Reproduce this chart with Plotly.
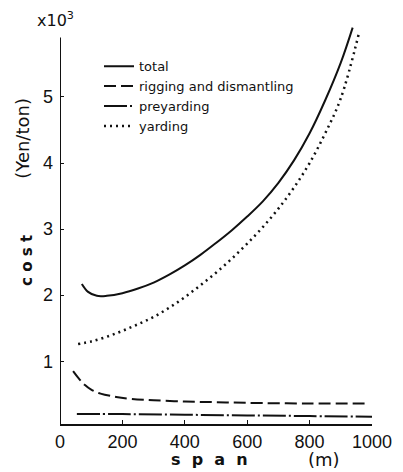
import plotly.graph_objects as go

# Cost components (x10^3 Yen/ton) against span (m)
total_span = [70, 90, 118, 150, 200, 250, 300, 350, 400, 450, 500, 550, 600, 650, 700, 750, 800, 850, 900, 938]
total_cost = [2.17, 2.05, 1.99, 1.99, 2.03, 2.1, 2.19, 2.31, 2.45, 2.61, 2.79, 2.98, 3.19, 3.42, 3.7, 4.04, 4.45, 4.95, 5.52, 6.05]

rig_span = [42, 60, 80, 100, 130, 180, 230, 300, 400, 500, 600, 800, 990]
rig_cost = [0.85, 0.74, 0.64, 0.57, 0.51, 0.46, 0.43, 0.41, 0.39, 0.38, 0.37, 0.36, 0.36]

pre_span = [54, 200, 400, 600, 800, 1000]
pre_cost = [0.2, 0.2, 0.19, 0.18, 0.17, 0.16]

yard_span = [58, 100, 150, 200, 250, 300, 350, 400, 450, 500, 550, 600, 650, 700, 750, 800, 850, 900, 960]
yard_cost = [1.26, 1.3, 1.37, 1.46, 1.56, 1.67, 1.81, 1.97, 2.15, 2.34, 2.55, 2.78, 3.03, 3.31, 3.63, 4.0, 4.45, 4.98, 6.0]

x_ticks = [0, 200, 400, 600, 800, 1000]
y_ticks = [1, 2, 3, 4, 5]

ink = "#111111"
tick_font = dict(family="Liberation Sans", size=18, color=ink)

fig = go.Figure()
fig.add_trace(go.Scatter(x=total_span, y=total_cost, mode="lines", name="total",
                         line=dict(color=ink, width=2, shape="spline")))
fig.add_trace(go.Scatter(x=rig_span, y=rig_cost, mode="lines", name="rigging and dismantling",
                         line=dict(color=ink, width=2, dash="12px,5px", shape="spline")))
fig.add_trace(go.Scatter(x=pre_span, y=pre_cost, mode="lines", name="preyarding",
                         line=dict(color=ink, width=2, dash="23px,3px,2px,3px", shape="spline")))
fig.add_trace(go.Scatter(x=yard_span, y=yard_cost, mode="lines", name="yarding",
                         line=dict(color=ink, width=2.5, dash="2px,4px", shape="spline")))

# y axis line stops short of the top of the plotting area
fig.add_shape(type="line", xref="x", yref="y", x0=0, x1=0, y0=0.05, y1=5.9,
              line=dict(color=ink, width=2))

fig.add_annotation(xref="paper", yref="paper", x=-0.016, y=1.003, xanchor="center", yanchor="middle",
                   text="x10<sup>3</sup>", showarrow=False,
                   font=dict(family="DejaVu Sans", size=16, color=ink))
fig.add_annotation(xref="paper", yref="paper", x=-0.106, y=0.407, xanchor="center", yanchor="middle",
                   text="<b>c o s t</b>", textangle=-90, showarrow=False,
                   font=dict(family="DejaVu Sans", size=15, color=ink))
fig.add_annotation(xref="paper", yref="paper", x=-0.119, y=0.71, xanchor="center", yanchor="middle",
                   text="(Yen/ton)", textangle=-90, showarrow=False,
                   font=dict(family="DejaVu Sans", size=18, color=ink))
fig.add_annotation(xref="paper", yref="paper", x=0.48, y=-0.089, xanchor="center", yanchor="middle",
                   text="<b>s  p  a  n</b>", showarrow=False,
                   font=dict(family="DejaVu Sans", size=16, color=ink))
fig.add_annotation(xref="paper", yref="paper", x=0.845, y=-0.089, xanchor="center", yanchor="middle",
                   text="(m)", showarrow=False,
                   font=dict(family="DejaVu Sans", size=18, color=ink))

fig.update_layout(
    width=403, height=472,
    margin=dict(l=60, r=31, t=21, b=48),
    paper_bgcolor="white", plot_bgcolor="white",
    showlegend=True,
    legend=dict(x=0.125, y=0.925, xanchor="left", yanchor="top",
                bgcolor="rgba(0,0,0,0)", font=dict(family="DejaVu Sans", size=13, color=ink),
                itemwidth=30),
    xaxis=dict(range=[0, 1000], tickvals=x_ticks, ticks="inside", ticklen=4, tickcolor=ink,
               showline=True, linecolor=ink, linewidth=2, showgrid=False, zeroline=False,
               tickfont=tick_font),
    yaxis=dict(range=[0.05, 6.15], tickvals=y_ticks, ticks="inside", ticklen=4, tickcolor=ink,
               showline=False, showgrid=False, zeroline=False, ticklabelstandoff=6,
               tickfont=tick_font),
)

fig.write_html("out.html")
